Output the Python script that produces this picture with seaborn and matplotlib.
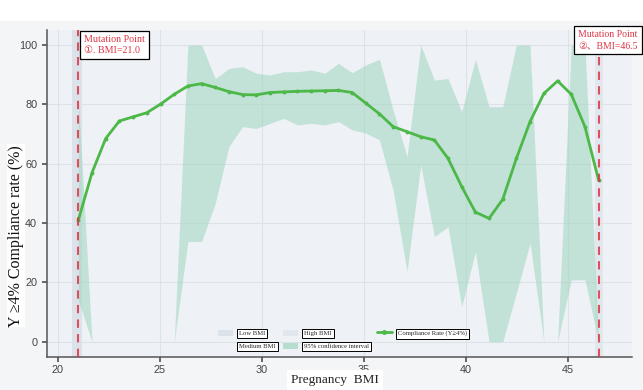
import numpy as np
import pandas as pd
import matplotlib
matplotlib.use("Agg")
import matplotlib.pyplot as plt
from matplotlib.patches import Patch, Rectangle
from matplotlib.lines import Line2D
import seaborn as sns

# ---- data ----
bmi = [21.00, 21.67, 22.34, 23.01, 23.68, 24.36, 25.03, 25.70, 26.37, 27.04,
       27.71, 28.38, 29.05, 29.72, 30.39, 31.07, 31.74, 32.41, 33.08, 33.75,
       34.42, 35.09, 35.76, 36.43, 37.11, 37.78, 38.45, 39.12, 39.79, 40.46,
       41.13, 41.80, 42.47, 43.14, 43.82, 44.49, 45.16, 45.83, 46.50]
rate = [41.0, 57.0, 68.5, 74.4, 75.8, 77.2, 80.1, 83.4, 86.2, 87.0,
        85.7, 84.3, 83.3, 83.2, 84.0, 84.2, 84.4, 84.5, 84.6, 84.7,
        84.0, 80.4, 76.8, 72.5, 70.8, 69.1, 68.0, 61.8, 52.3, 43.7,
        41.6, 48.0, 61.8, 74.2, 83.7, 87.9, 83.4, 72.5, 54.5]
ci_upper = [82, 0, 0, 0, 0, 0, 0, 0, 100, 100,
            88.7, 92.1, 92.7, 90.5, 89.9, 91.0, 91.0, 91.6, 90.5, 93.8,
            90.7, 93.3, 95.2, 78.0, 62.4, 100, 88.2, 88.7, 77.5, 95.2,
            79.2, 79.2, 100, 100, 0, 0, 100, 100, 0]
ci_lower = [14, 0, 0, 0, 0, 0, 0, 0, 33.8, 33.8,
            46.7, 65.8, 72.5, 71.9, 73.6, 75.3, 73.1, 73.6, 73.1, 74.2,
            71.4, 70.3, 68.0, 51.0, 23.7, 59.6, 35.5, 38.8, 11.9, 30.4,
            0, 0, 16.5, 33.2, 0, 0, 20.9, 20.9, 0]
mutation_points = [21.0, 46.5]
low_span = (20.7, 21.2)
high_span = (46.3, 46.7)

df = pd.DataFrame({"BMI": bmi, "Rate": rate})

sns.set_theme(style="whitegrid")
plt.rcParams.update({
    "axes.facecolor": "#eef1f5",
    "grid.color": "#dde2e9",
    "grid.linewidth": 0.8,
    "axes.edgecolor": "#555555",
    "xtick.bottom": True,
    "ytick.left": True,
    "xtick.color": "#555555",
    "ytick.color": "#555555",
    "xtick.labelcolor": "#444444",
    "ytick.labelcolor": "#444444",
    "xtick.major.size": 3.5,
    "ytick.major.size": 3.5,
    "xtick.major.pad": 2.5,
})
plt.rcParams["font.family"] = ["Liberation Sans", "DejaVu Sans"]

GREEN = "#4cb848"
CI_COL = "#9fd6bf"
RED = "#dc3545"
SERIF = ["Liberation Serif", "DejaVu Sans", "Noto Sans CJK SC"]

fig = plt.figure(figsize=(6.43, 3.90), dpi=100, facecolor="#f4f5f7")
ax = fig.add_axes([0.073, 0.085, 0.910, 0.838])

# white strip at the top of the picture
fig.patches.append(Rectangle((0, 0.945), 1, 0.055, transform=fig.transFigure,
                             facecolor="white", edgecolor="none", zorder=0))

ax.axvspan(*low_span, color="#dce2ea", zorder=0.5, lw=0)
ax.axvspan(*high_span, color="#e2e7ed", zorder=0.5, lw=0)

ax.fill_between(bmi, ci_lower, ci_upper, color=CI_COL, alpha=0.55, lw=0, zorder=1)
sns.lineplot(data=df, x="BMI", y="Rate", ax=ax, color=GREEN, linewidth=2.0,
             marker="o", markersize=2.8, markeredgewidth=0, zorder=3)

for xp in mutation_points:
    ax.axvline(xp, color=RED, linestyle=(0, (4, 3)), linewidth=1.5, zorder=4,
               alpha=0.85)

ax.set_xlim(19.46, 48.14)
ax.set_ylim(-5.05, 105.05)
ax.set_xticks([20, 25, 30, 35, 40, 45])
ax.set_yticks([0, 20, 40, 60, 80, 100])
ax.tick_params(labelsize=7.8)
for s in ["top", "right"]:
    ax.spines[s].set_visible(False)
ax.spines["left"].set_linewidth(1.1)
ax.spines["bottom"].set_linewidth(1.1)

ax.set_xlabel("Pregnancy  BMI", family=SERIF, fontsize=9.5, color="#222222",
              bbox=dict(facecolor="white", edgecolor="none", pad=3))
ax.xaxis.set_label_coords(0.492, -0.052)
ax.set_ylabel("Y \u22654% Compliance rate (%)", family=SERIF, fontsize=11.5,
              color="#111111",
              bbox=dict(facecolor="white", edgecolor="none", pad=0.5))
ax.yaxis.set_label_coords(-0.039, 0.37)

# mutation point annotations
box = dict(facecolor="white", edgecolor="black", linewidth=0.9, pad=3)
ax.text(21.28, 103.4, "Mutation Point\n\u2460. BMI=21.0", color=RED,
        family=SERIF, fontsize=7.2, va="top", ha="left", bbox=box,
        linespacing=1.3, clip_on=False, zorder=6)
ax.text(45.5, 105.0, "Mutation Point\n\u2461\u3001BMI=46.5", color=RED,
        family=SERIF, fontsize=7.0, va="top", ha="left", bbox=box,
        linespacing=1.3, clip_on=False, zorder=6)

# legend
handles = [
    Patch(facecolor="#dce2ea", edgecolor="none"),
    Patch(facecolor="#eef1f5", edgecolor="none"),
    Patch(facecolor="#e2e7ed", edgecolor="none"),
    Patch(facecolor=CI_COL, alpha=0.7, edgecolor="none"),
    Line2D([0], [0], color=GREEN, lw=2.0, marker="o", markersize=2.5),
]
labels = ["Low BMI", "Medium BMI", "High BMI", "95% confidence interval",
          "Compliance Rate (Y\u22654%)"]
leg = ax.legend(handles, labels, ncol=3, loc="lower center",
                bbox_to_anchor=(0.505, 0.005), frameon=False,
                prop={"family": SERIF, "size": 4.8}, handlelength=2.3,
                handleheight=1.1, columnspacing=1.1, labelspacing=1.0,
                handletextpad=0.9)
for t in leg.get_texts():
    t.set_bbox(dict(facecolor="white", edgecolor="black", linewidth=0.7, pad=1.5))

fig.savefig("out.png", dpi=100, facecolor=fig.get_facecolor())
